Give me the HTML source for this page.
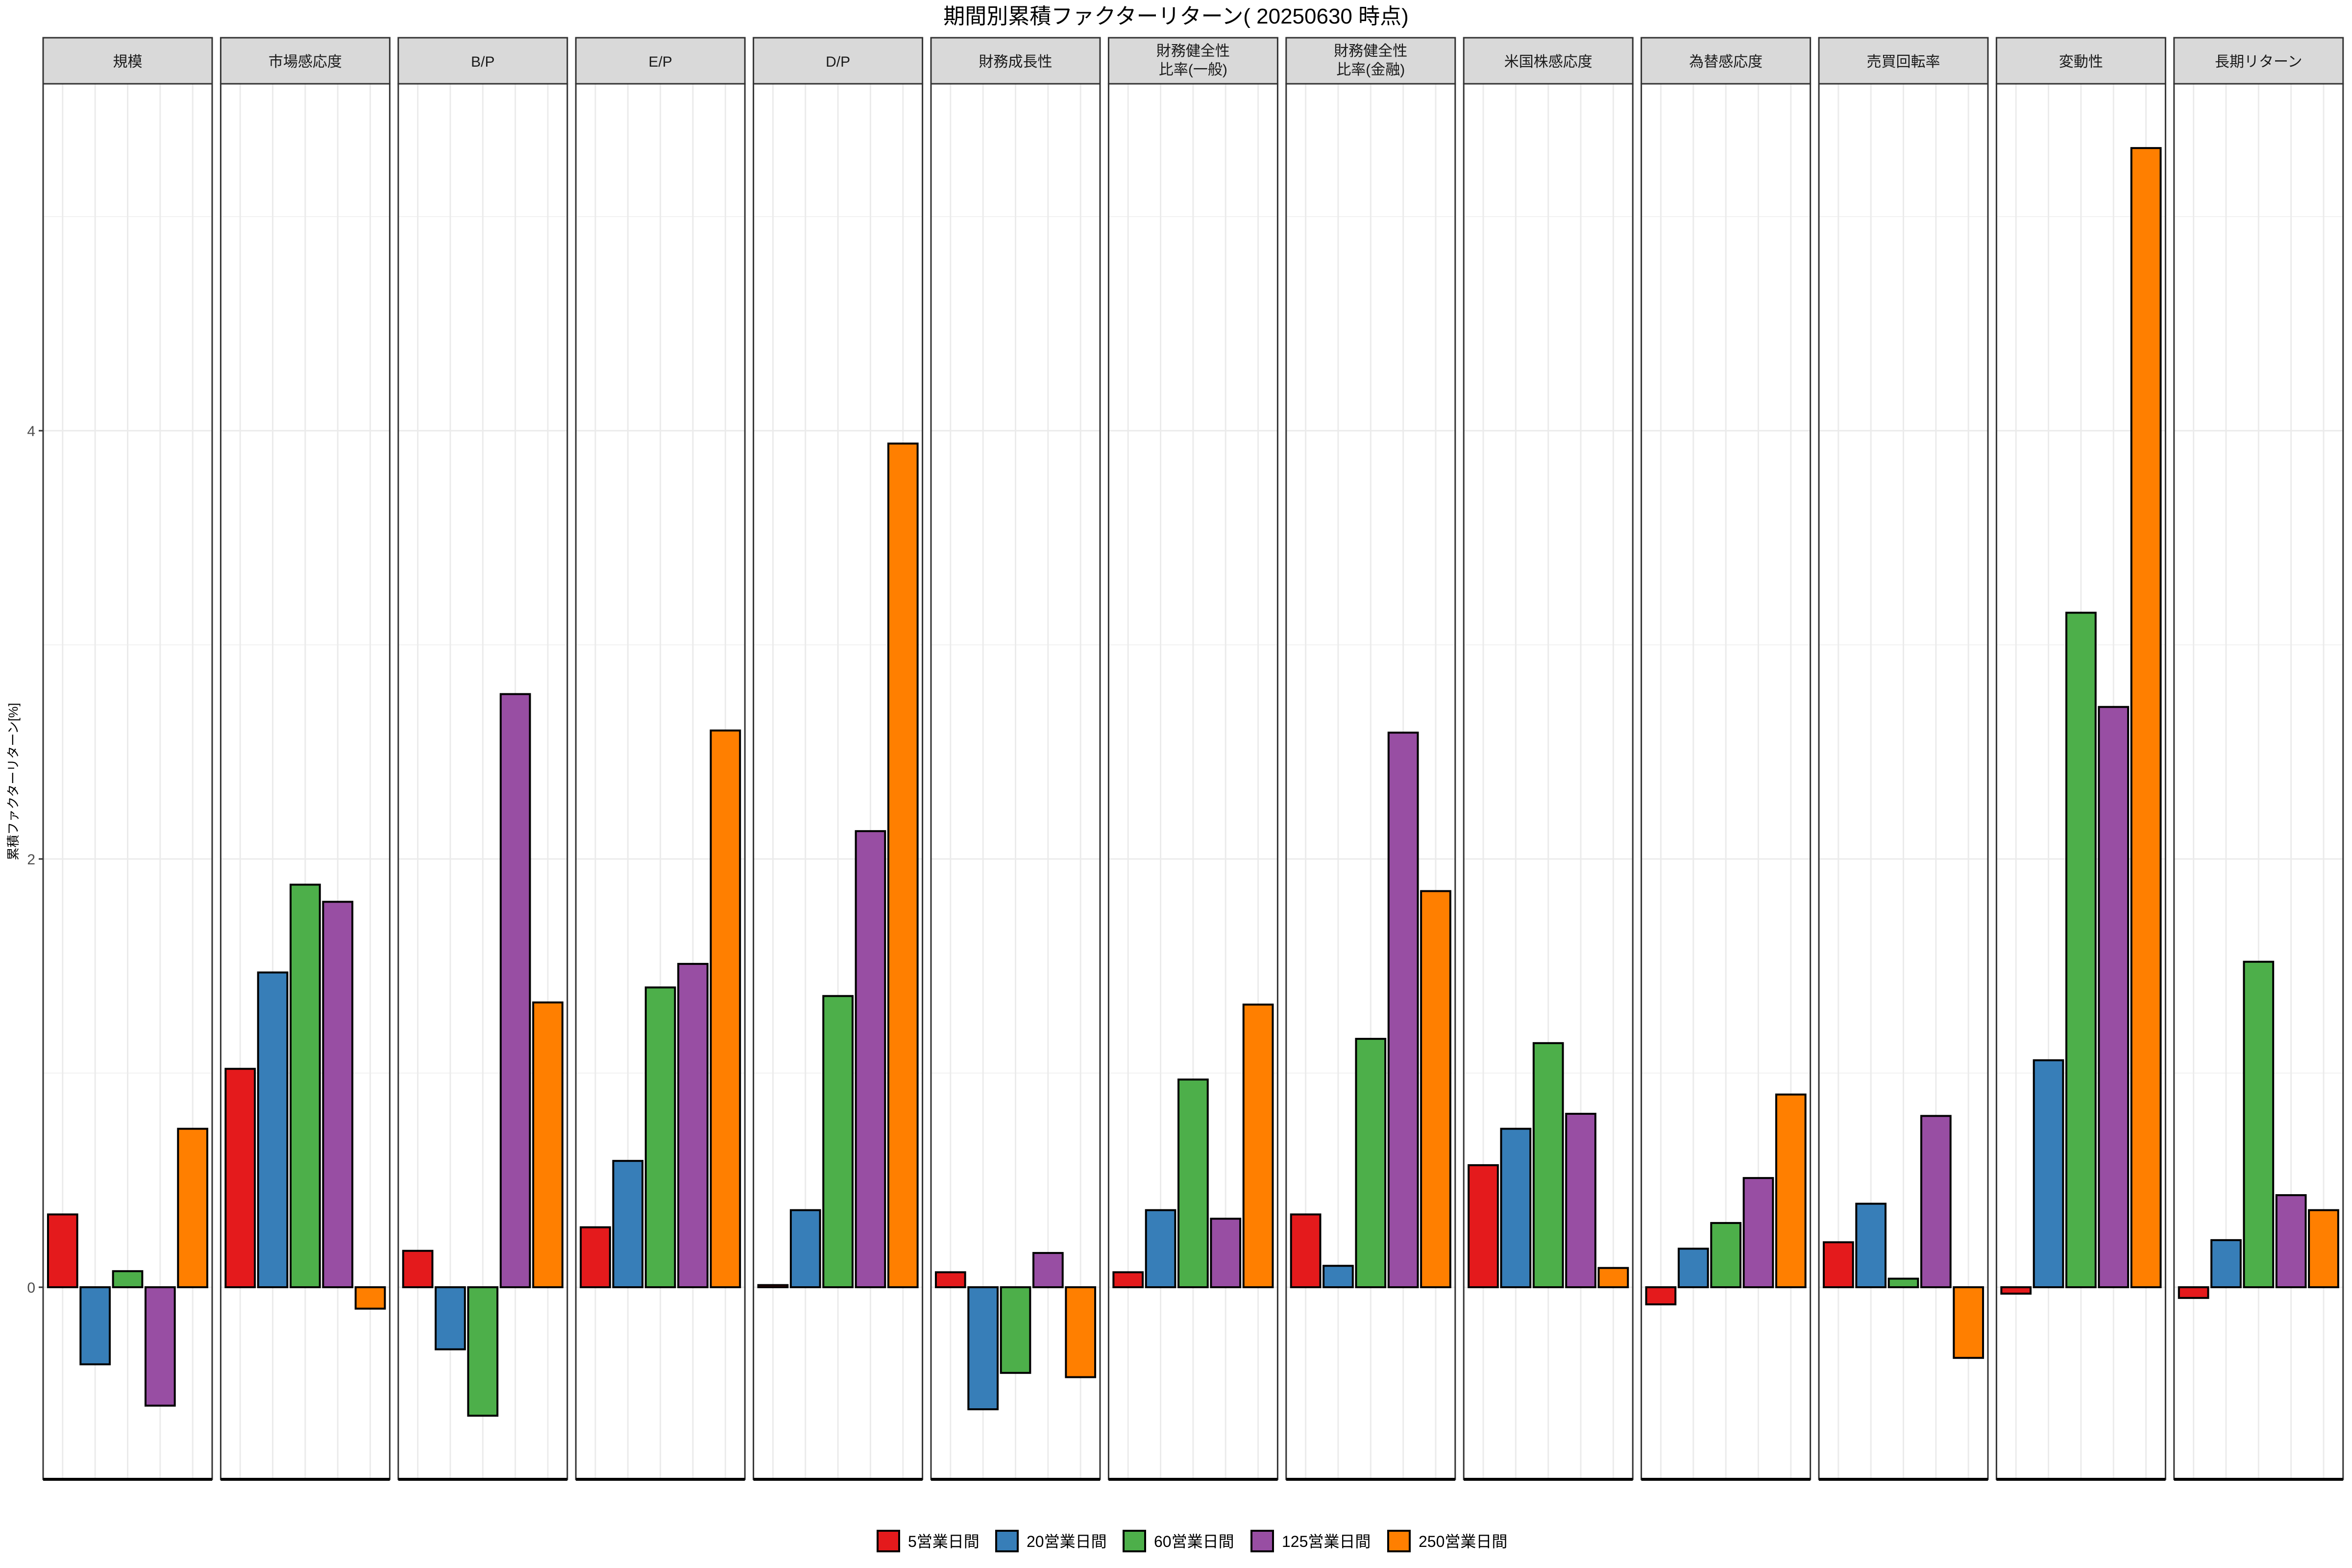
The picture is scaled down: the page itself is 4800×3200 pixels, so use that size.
<!DOCTYPE html>
<html><head><meta charset="utf-8">
<style>
html,body{margin:0;padding:0;background:#fff;}
svg{display:block;font-family:"Liberation Sans","Noto Sans CJK JP",sans-serif;}
</style></head>
<body>
<svg id="chart" width="4800" height="3200" viewBox="0 0 4800 3200" xmlns="http://www.w3.org/2000/svg">
<rect width="4800" height="3200" fill="#fff"/>
<text x="2400" y="48" text-anchor="middle" font-size="44" fill="#000">期間別累積ファクターリターン( 20250630 時点)</text>
<text transform="translate(36,1595) rotate(-90)" text-anchor="middle" font-size="26" fill="#000">累積ファクターリターン[%]</text>
<g id="panels"></g>
<g id="yaxis"></g>
<g id="legend"></g>
</svg>
<script>
const facets = ["規模","市場感応度","B/P","E/P","D/P","財務成長性","財務健全性\n比率(一般)","財務健全性\n比率(金融)","米国株感応度","為替感応度","売買回転率","変動性","長期リターン"];
const periods = ["5営業日間","20営業日間","60営業日間","125営業日間","250営業日間"];
const colors = ["#E41A1C","#377EB8","#4DAF4A","#984EA3","#FF7F00"];
const vals5   = [0.34,1.02,0.17,0.28,0.01,0.07,0.07,0.34,0.57,-0.08,0.21,-0.03,-0.05];
const vals20  = [-0.36,1.47,-0.29,0.59,0.36,-0.57,0.36,0.10,0.74,0.18,0.39,1.06,0.22];
const vals60  = [0.075,1.88,-0.60,1.40,1.36,-0.40,0.97,1.16,1.14,0.30,0.04,3.15,1.52];
const vals125 = [-0.553,1.80,2.77,1.51,2.13,0.16,0.32,2.59,0.81,0.51,0.80,2.71,0.43];
const vals250 = [0.74,-0.10,1.33,2.60,3.94,-0.42,1.32,1.85,0.09,0.90,-0.33,5.32,0.36];
const yTicks = [0,2,4];
const yMinor = [1,3,5];

const series=[vals5,vals20,vals60,vals125,vals250];
const NS="http://www.w3.org/2000/svg";
const PT=171, PB=3019, ZERO=2627, PPU=437;
const PL0=88, PITCH=362.4, PW=345;
function y(v){return ZERO - v*PPU;}
function xc(i){return (i+1-0.4)/5.2*PW;}
function mk(tag,attrs,parent){const e=document.createElementNS(NS,tag);for(const k in attrs)e.setAttribute(k,attrs[k]);parent.appendChild(e);return e;}
const panels=document.getElementById('panels');
facets.forEach((f,fi)=>{
  const px=PL0+fi*PITCH;
  const g=mk('g',{transform:`translate(${px},0)`},panels);
  
  
  mk('rect',{x:0,y:PT,width:PW,height:PB-PT,fill:'#fff'},g);
  yMinor.forEach(t=>mk('line',{x1:0,x2:PW,y1:y(t),y2:y(t),stroke:'#f2f2f2','stroke-width':2},g));
  yTicks.forEach(t=>mk('line',{x1:0,x2:PW,y1:y(t),y2:y(t),stroke:'#ebebeb','stroke-width':3},g));
  periods.forEach((p,i)=>mk('line',{x1:xc(i),x2:xc(i),y1:PT,y2:PB,stroke:'#ebebeb','stroke-width':3},g));
  series.forEach((s,i)=>{
    const v=s[fi];
    const r=mk('rect',{x:xc(i)-0.45*PW/5.2,width:0.9*PW/5.2,y:Math.min(y(v),y(0)),height:Math.max(Math.abs(y(v)-y(0)),1),fill:colors[i],stroke:'#000','stroke-width':4},g);
    
    
  });
  mk('rect',{x:0,y:PT,width:PW,height:PB-PT,fill:'none',stroke:'#333','stroke-width':3},g);
  mk('line',{x1:0,x2:PW,y1:PB,y2:PB,stroke:'#000','stroke-width':6},g);
  const st=mk('rect',{x:0,y:77,width:PW,height:94,fill:'#d9d9d9',stroke:'#333','stroke-width':3},g);
  
  
  const lines=f.split('\n');
  lines.forEach((ln,li)=>{
    const t=mk('text',{x:PW/2,y:(lines.length===1?136:114+li*38),'text-anchor':'middle','font-size':30,fill:'#1a1a1a'},g);
    t.textContent=ln;
    
    
  });
});
const ya=document.getElementById('yaxis');
yTicks.forEach(t=>{
  mk('line',{x1:79,x2:88,y1:y(t),y2:y(t),stroke:'#333','stroke-width':3},ya);
  const tx=mk('text',{x:72,y:y(t)+11,'text-anchor':'end','font-size':30,fill:'#4d4d4d'},ya);
  tx.textContent=String(t);
  
  
});
const lg=document.getElementById('legend');
const keyX=[1791,2033,2293,2554,2833];
periods.forEach((p,i)=>{
  const k=mk('rect',{x:keyX[i],y:3124,width:44,height:42,fill:colors[i],stroke:'#000','stroke-width':4},lg);
  
  
  const t=mk('text',{x:keyX[i]+62,y:3157,'font-size':32,fill:'#000'},lg);
  t.textContent=p;
  
  
});
</script>
</body></html>
